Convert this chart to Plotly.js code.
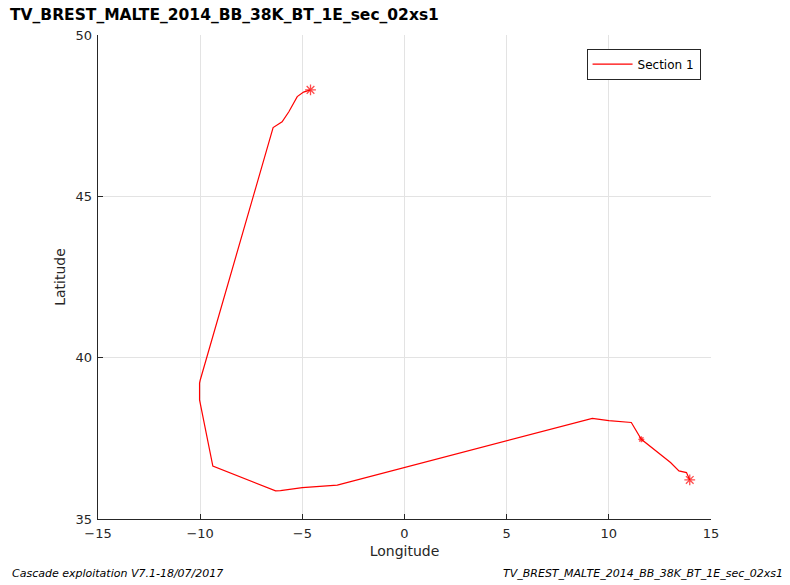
<!DOCTYPE html>
<html>
<head>
<meta charset="utf-8">
<script src="https://cdn.plot.ly/plotly-3.0.1.min.js"></script>
<style>body{margin:0;padding:0;background:#fff;}#chart{width:790px;height:585px;}</style>
</head>
<body>
<div id="chart"></div>
<script>
var trackLon = [-4.60, -4.94, -5.25, -5.66, -5.99, -6.43, -10.00, -10.03, -10.03, -9.38, -6.31, -6.07, -5.00, -3.29, 9.19, 10.00, 11.10, 11.59, 13.02, 13.43, 13.80, 13.96];
var trackLat = [48.30, 48.23, 48.09, 47.62, 47.31, 47.13, 39.30, 39.21, 38.69, 36.64, 35.87, 35.88, 35.97, 36.05, 38.12, 38.05, 37.99, 37.47, 36.75, 36.49, 36.44, 36.21];
var markLon = [-4.60, 11.59, 13.96];
var markLat = [48.30, 37.47, 36.21];
var markSize = [9, 5, 9];
var xTicks = [-15, -10, -5, 0, 5, 10, 15];
var yTicks = [35, 40, 45, 50];
var titleText = "TV_BREST_MALTE_2014_BB_38K_BT_1E_sec_02xs1";
var footLeft = "Cascade exploitation V7.1-18/07/2017";
var footRight = "TV_BREST_MALTE_2014_BB_38K_BT_1E_sec_02xs1";
var seriesName = "Section 1";

var font = "DejaVu Sans, Lucida Grande, sans-serif";
var traces = [
  {x: trackLon, y: trackLat, mode: "lines", name: seriesName,
   line: {color: "#ff0000", width: 1.2}},
  {x: markLon, y: markLat, mode: "markers", showlegend: false,
   marker: {symbol: "asterisk-open", size: markSize, color: "#ff0000", line: {color: "#ff0000", width: 1.3}}}
];
var axisCommon = {
  showgrid: true, gridcolor: "#e3e3e3", gridwidth: 1,
  zeroline: false, showline: true, linecolor: "#262626", linewidth: 1.3,
  ticks: "inside", ticklen: 5, tickcolor: "#262626", tickwidth: 1,
  tickfont: {family: font, size: 13, color: "#262626"},
  mirror: false
};
var layout = {
  width: 790, height: 585,
  margin: {l: 98, r: 79, t: 35, b: 66},
  paper_bgcolor: "#ffffff", plot_bgcolor: "#ffffff",
  font: {family: font, color: "#262626"},
  title: {text: "<b>" + titleText + "</b>", x: 10/790, xanchor: "left", xref: "container", y: 1 - 15/585, yanchor: "middle", yref: "container",
          font: {family: font, size: 15.5, color: "#000000"}},
  xaxis: Object.assign({}, axisCommon, {
    range: [-15, 15], tickvals: xTicks, ticktext: xTicks.map(function(v){return v < 0 ? "\u2212" + Math.abs(v) : String(v);}),
    ticklabelstandoff: 2,
    title: {text: "Longitude", font: {family: font, size: 14, color: "#262626"}, standoff: 6}
  }),
  yaxis: Object.assign({}, axisCommon, {
    range: [35, 50], tickvals: yTicks, ticktext: yTicks.map(String),
    ticklabelstandoff: 2,
    title: {text: "Latitude", font: {family: font, size: 14, color: "#262626"}, standoff: 6}
  }),
  showlegend: true,
  legend: {x: 0.797, y: 0.972, xanchor: "left", yanchor: "top", bgcolor: "#ffffff",
           bordercolor: "#262626", borderwidth: 1, font: {family: font, size: 12, color: "#000000"},
           itemwidth: 40},
  annotations: [
    {text: "<i>" + footLeft + "</i>", xref: "paper", yref: "paper", x: -0.1436, y: -0.112, xanchor: "left", yanchor: "middle",
     showarrow: false, font: {family: font, size: 11, color: "#000000"}},
    {text: "<i>" + footRight + "</i>", xref: "paper", yref: "paper", x: 1.121, y: -0.112, xanchor: "right", yanchor: "middle",
     showarrow: false, font: {family: font, size: 11, color: "#000000"}}
  ]
};
Plotly.newPlot("chart", traces, layout, {displayModeBar: false, staticPlot: true});
</script>
</body>
</html>
